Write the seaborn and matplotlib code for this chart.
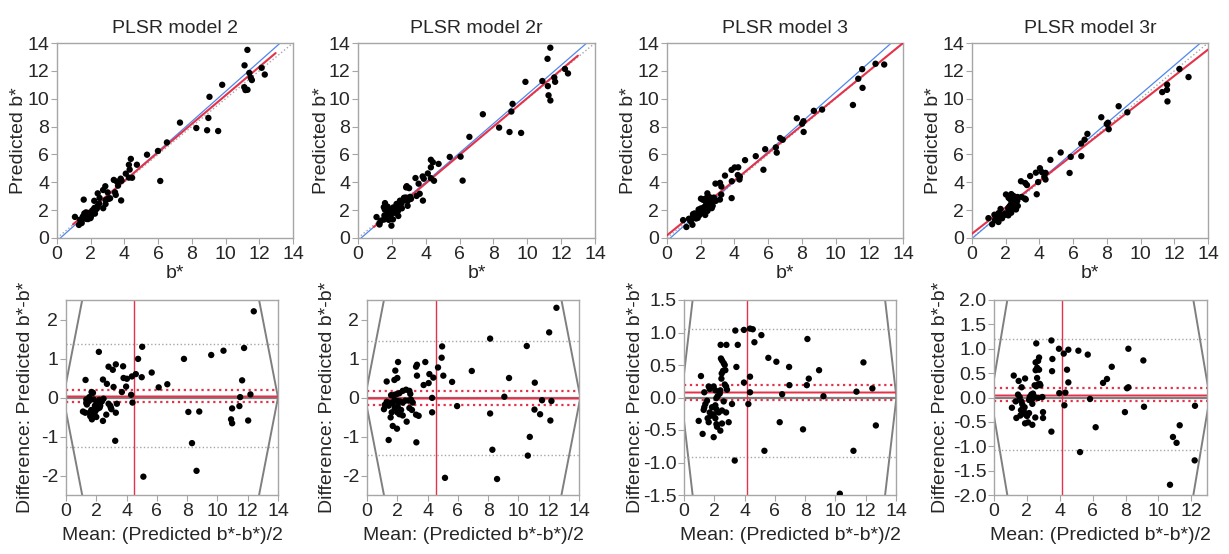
import numpy as np
import pandas as pd
import matplotlib
matplotlib.use("Agg")
import matplotlib.pyplot as plt
import matplotlib.ticker as mticker
import seaborn as sns

titles = ["PLSR model 2", "PLSR model 2r", "PLSR model 3", "PLSR model 3r"]

# Bland-Altman points: mean and difference (Predicted - measured)
mean_2 = [12.4, 11.76, 10.4, 9.59, 7.79, 11.63, 12.18, 11.5, 11.45, 10.97, 10.9, 10.97, 12.03,
          8.08, 8.8, 8.32, 8.62, 5.11, 6.69, 6.12, 5.66, 5.03, 4.76, 5.0, 4.61, 4.35, 4.3, 4.39,
          2.17, 1.29, 2.81, 3.09, 3.29, 3.77, 2.44, 2.7, 3.14, 3.8, 4.02, 3.69, 3.97, 1.69, 1.78,
          1.34, 1.34, 1.54, 1.38, 1.82, 2.04, 2.19, 2.48, 2.37, 2.81, 2.92, 2.96, 3.36, 1.12, 1.27,
          1.56, 1.6, 1.71, 1.78, 1.93, 1.99, 2.08, 2.22, 2.26, 1.91, 2.66, 2.44, 3.29, 3.25, 1.67,
          2.1, 2.0, 3.0, 1.5]
diff_2 = [2.21, 1.27, 1.2, 1.09, 0.99, 0.44, 0.08, 0.01, -0.22, -0.28, -0.56, -0.66, -0.59,
          -0.37, -0.36, -1.17, -1.88, -2.03, 0.34, 0.26, 0.64, 1.3, 0.99, 0.52, 0.6, 0.54, 0.07, -0.13,
          1.17, 0.45, 0.79, 0.71, 0.85, 0.80, 0.46, 0.35, 0.27, 0.5, 0.48, 0.14, 0.28, 0.14, 0.12,
          -0.05, -0.14, 0.01, -0.18, -0.05, -0.12, -0.06, -0.03, -0.10, -0.16, -0.21, -0.26, -0.16, -0.36, -0.39,
          -0.39, -0.48, -0.56, -0.46, -0.36, -0.27, -0.29, -0.26, -0.21, -0.21, -0.44, -0.6, -0.39, -1.11, -0.32,
          -0.2, -0.5, -0.3, -0.1]

mean_2r = [12.51, 12.03, 10.55, 8.13, 9.38, 11.08, 6.92, 9.07, 11.56, 12.18, 11.06, 11.43, 12.11,
           10.75, 10.62, 8.13, 8.28, 8.59, 5.15, 5.95, 5.62,
           4.96, 4.93, 4.69, 5.04, 4.38, 4.12, 4.07, 3.74, 3.85, 3.24, 3.3, 3.3, 4.3, 4.3, 3.26,
           2.05, 1.87, 1.3, 1.81, 2.0, 2.36, 2.58, 2.8, 2.86, 1.59, 1.81, 1.98, 2.14, 1.52, 1.3,
           1.17, 1.12, 1.43, 1.7, 1.81, 2.0, 2.18, 2.36, 2.53, 2.75, 2.91, 3.02, 2.8, 2.97, 2.03,
           1.83, 2.25, 2.0, 2.14, 1.63, 2.36, 1.56, 2.62, 3.24, 3.41, 1.7, 1.98, 1.43]
diff_2r = [2.3, 1.67, 1.32, 1.51, 0.5, 0.38, 0.68, 0.02, -0.07, -0.09, -0.31, -0.43, -0.59,
           -1.01, -1.49, -0.41, -1.34, -2.09, -2.06, -0.22, 0.4,
           1.31, 1.02, 0.77, 0.56, 0.51, 0.6, 0.37, 0.32, 0.91, 0.79, 0.84, 0.56, -0.01, -0.38, -1.15,
           0.91, 0.69, 0.41, 0.45, 0.5, 0.17, 0.2, 0.17, 0.09, 0.06, 0.07, 0.09, 0.11, -0.13, -0.11,
           -0.19, -0.3, -0.21, -0.15, -0.06, -0.09, -0.1, -0.13, -0.08, -0.08, -0.06, -0.13, -0.27, -0.32, -0.23,
           -0.27, -0.32, -0.38, -0.43, -0.38, -0.46, -0.51, -0.62, -0.44, -0.47, -0.73, -0.8, -1.09]

mean_3 = [11.85, 12.44, 12.67, 11.19, 10.29, 11.39, 8.92, 8.15, 8.24, 8.11, 6.94, 6.96, 6.1, 5.57,
          5.11, 4.65, 9.21, 6.48, 6.32, 7.86, 5.31, 3.35, 4.25, 4.36, 4.36, 3.96, 4.36, 4.54, 3.96, 3.39,
          2.42, 2.8, 3.55, 2.44, 2.51, 2.62, 2.69, 3.46, 2.58, 2.73, 2.49, 2.47, 1.12, 2.69, 2.78, 2.84,
          1.63, 1.96, 1.7, 1.34, 2.07, 2.4, 2.36, 2.22, 2.14, 3.17, 2.62, 1.52, 1.41, 1.34, 1.3, 1.85,
          2.07, 2.14, 2.29, 2.51, 2.78, 1.7, 1.78, 1.96, 2.07, 1.56, 1.63, 2.14, 2.51, 2.18, 2.95, 0.97,
          2.4, 1.23, 1.96]
diff_3 = [0.54, 0.14, -0.43, -0.82, -1.48, 0.09, 0.42, 0.9, 0.29, 0.19, 0.47, 0.19, 0.55, 0.61,
          0.96, 0.85, 0.02, 0.05, -0.38, -0.49, -0.82, -0.97, -0.1, 0.08, 0.32, 0.23, 1.06, 1.05, 1.04, 1.03,
          0.81, 0.81, 0.81, 0.6, 0.57, 0.53, 0.5, 0.47, 0.41, 0.42, 0.37, 0.29, 0.33, 0.2, 0.17, 0.12,
          0.17, 0.17, 0.13, 0.08, 0.11, 0.11, 0.06, 0.02, -0.01, -0.1, -0.06, -0.05, -0.1, -0.15, -0.19, -0.15,
          -0.12, -0.18, -0.23, -0.2, -0.23, -0.23, -0.28, -0.26, -0.32, -0.32, -0.38, -0.41, -0.4, -0.45, -0.38, -0.36,
          -0.51, -0.56, -0.61]

mean_3r = [12.22, 12.2, 10.7, 11.1, 10.88, 11.29, 9.12, 9.08, 8.17, 8.17, 8.09, 7.96, 7.16, 6.87,
           6.63, 6.18, 5.84, 5.7, 5.13, 5.23, 4.52, 4.44, 4.52, 4.24, 3.95, 4.28, 4.34, 3.97, 3.49, 3.49,
           3.53, 3.55,
           2.57, 2.74, 2.68, 2.53, 2.62, 2.74, 2.53, 1.2, 1.5, 1.89, 2.62, 1.68, 2.47, 2.68, 2.78, 2.57,
           2.82, 1.46, 1.56, 2.27, 2.37, 2.17, 2.47, 2.33, 2.68, 2.94, 2.13, 1.32, 1.66, 1.72, 1.86, 1.64,
           1.76, 1.09, 2.33, 1.36, 1.6, 1.82, 1.93, 2.01, 2.13, 2.98, 2.98, 2.51, 1.89, 2.07, 2.33]
diff_3r = [-0.17, -1.29, -1.79, -0.93, -0.81, -0.57, -0.19, 0.76, 1.0, 0.21, 0.19, -0.3, 0.63, 0.38,
           0.3, -0.61, -0.03, 0.88, 0.96, -1.12, 0.31, 0.57, 0.98, 0.9, 1.0, -0.16, 0.1, 0.09, -0.7, 1.17,
           0.54, 0.79,
           1.11, 0.82, 0.75, 0.72, 0.61, 0.57, 0.56, 0.45, 0.34, 0.39, 0.4, 0.21, 0.25, 0.27, 0.28, 0.23,
           0.25, 0.06, 0.01, 0.06, 0.08, 0.01, 0.01, -0.03, -0.01, 0.01, -0.05, -0.08, -0.08, -0.14, -0.2, -0.26,
           -0.23, -0.21, -0.13, -0.42, -0.37, -0.29, -0.35, -0.38, -0.32, -0.3, -0.42, -0.41, -0.53, -0.51, -0.56]

ba_means = [mean_2, mean_2r, mean_3, mean_3r]
ba_diffs = [diff_2, diff_2r, diff_3, diff_3r]

# fitted lines in the scatter panels
fit_slope = [1.023, 1.02, 0.986, 0.944]
fit_icpt = [0.01, -0.16, 0.19, 0.31]
fit_xrange = [(0.95, 12.97), (0.93, 12.99), (0.0, 14.0), (0.0, 14.0)]
ortho_slope = [1.073, 1.05, 1.068, 1.036]
ortho_icpt = [-0.21, -0.19, -0.21, -0.04]

# Bland-Altman statistics
ba_mean_diff = [0.045, -0.01, 0.078, 0.05]
ba_ci_low = [-0.11, -0.18, -0.04, -0.07]
ba_ci_high = [0.20, 0.16, 0.19, 0.20]
ba_loa_low = [-1.27, -1.48, -0.92, -1.07]
ba_loa_high = [1.37, 1.45, 1.06, 1.19]
ba_mean_x = [4.52, 4.56, 4.14, 4.11]
rot_min = [-0.18, -0.13, -0.18, -0.19]
rot_max = [14.0, 14.09, 14.03, 13.12]

top_xlim = [(0, 14), (0.9, 14), (0, 14), (0, 14)]
bot_xlim = [(0, 14), (0, 14), (0, 14), (0, 12.95)]
bot_ylim = [(-2.5, 2.5), (-2.5, 2.5), (-1.5, 1.5), (-2.0, 2.0)]
bot_ystep = [1.0, 1.0, 0.5, 0.5]
bot_yfmt = ["%d", "%d", "%.1f", "%.1f"]

sns.set_style("ticks")
plt.rcParams["font.family"] = ["Liberation Sans", "DejaVu Sans"]

RED = "#e4324a"
BLUE = "#4f86ee"
GREY = "#7f7f7f"
LGREY = "#a6a6a6"
FS = 14

fig = plt.figure(figsize=(12.29, 5.54), dpi=100)
W, H = 1229.0, 554.0
top_px = [(57, 293), (358, 595), (667, 903), (972, 1208)]
bot_px = [(66, 278), (367, 579), (684, 896), (994, 1207)]
top_ylab = [-0.128, -0.118, -0.128, -0.128]
bot_ylab = [-0.150, -0.145, -0.188, -0.211]


def style_axes(ax):
    for s in ax.spines.values():
        s.set_color(LGREY)
        s.set_linewidth(1.0)
    ax.tick_params(axis="both", direction="out", length=4, width=0.8, color=LGREY,
                   labelsize=FS, pad=1.5)


for i in range(4):
    m = np.array(ba_means[i])
    d = np.array(ba_diffs[i])
    measured = m - d / 2
    predicted = m + d / 2
    df = pd.DataFrame({"measured": measured, "predicted": predicted, "mean": m, "diff": d})

    # ---------- top scatter panel ----------
    l, r = top_px[i]
    ax = fig.add_axes([l / W, 1 - 238 / H, (r - l) / W, 195 / H])
    x0, x1 = top_xlim[i]
    xs = np.array([0.0, 14.0])
    ax.plot(xs, xs, color=LGREY, ls=":", lw=1.0, zorder=1)
    ax.plot(xs, ortho_slope[i] * xs + ortho_icpt[i], color=BLUE, lw=0.9, zorder=2)
    fx = np.array(fit_xrange[i])
    ax.plot(fx, fit_slope[i] * fx + fit_icpt[i], color=RED, lw=1.5, zorder=3)
    sns.scatterplot(data=df, x="measured", y="predicted", ax=ax, color="black", s=21,
                    edgecolor="none", zorder=4, legend=False)
    ax.set_xlim(x0, x1)
    ax.set_ylim(0, 14)
    ax.set_xticks(np.arange(0, 15, 2))
    ax.set_yticks(np.arange(0, 15, 2))
    style_axes(ax)
    ax.set_title(titles[i], fontsize=FS, pad=7)
    ax.set_xlabel("b*", fontsize=FS, labelpad=2)
    ax.set_ylabel("Predicted b*", fontsize=FS)
    ax.yaxis.set_label_coords(top_ylab[i], 0.5)

    # ---------- bottom Bland-Altman panel ----------
    l, r = bot_px[i]
    ax = fig.add_axes([l / W, 1 - 495 / H, (r - l) / W, 195 / H])
    bx0, bx1 = bot_xlim[i]
    by0, by1 = bot_ylim[i]
    xx = np.linspace(-1, 15, 200)
    ax.plot(xx, 2 * (xx - rot_min[i]), color=GREY, lw=1.4, zorder=2)
    ax.plot(xx, -2 * (xx - rot_min[i]), color=GREY, lw=1.4, zorder=2)
    ax.plot(xx, 2 * (rot_max[i] - xx), color=GREY, lw=1.4, zorder=2)
    ax.plot(xx, -2 * (rot_max[i] - xx), color=GREY, lw=1.4, zorder=2)
    ax.axhline(0, color=GREY, lw=1.6, zorder=2)
    ax.axhline(ba_mean_diff[i], color=RED, lw=2.2, alpha=0.45, zorder=2)
    ax.axhline(ba_mean_diff[i], color=RED, lw=0.8, zorder=2)
    ax.axhline(ba_ci_low[i], color=RED, ls=":", lw=1.6, zorder=2)
    ax.axhline(ba_ci_high[i], color=RED, ls=":", lw=1.6, zorder=2)
    ax.axhline(ba_loa_low[i], color=LGREY, ls=":", lw=1.0, zorder=2)
    ax.axhline(ba_loa_high[i], color=LGREY, ls=":", lw=1.0, zorder=2)
    ax.axvline(ba_mean_x[i], color=RED, lw=1.0, zorder=2)
    sns.scatterplot(data=df, x="mean", y="diff", ax=ax, color="black", s=21,
                    edgecolor="none", zorder=4, legend=False)
    ax.set_xlim(bx0, bx1)
    ax.set_ylim(by0, by1)
    ax.set_xticks(np.arange(0, bx1 + 0.01, 2))
    ax.set_yticks(np.arange(np.ceil(by0 / bot_ystep[i]) * bot_ystep[i], by1 + 1e-6, bot_ystep[i]))
    ax.yaxis.set_major_formatter(mticker.FormatStrFormatter(bot_yfmt[i]))
    style_axes(ax)
    ax.set_xlabel("Mean: (Predicted b*-b*)/2", fontsize=FS, labelpad=5)
    ax.set_ylabel("Difference: Predicted b*-b*", fontsize=FS)
    ax.yaxis.set_label_coords(bot_ylab[i], 0.5)

fig.savefig("out.png", dpi=100)
